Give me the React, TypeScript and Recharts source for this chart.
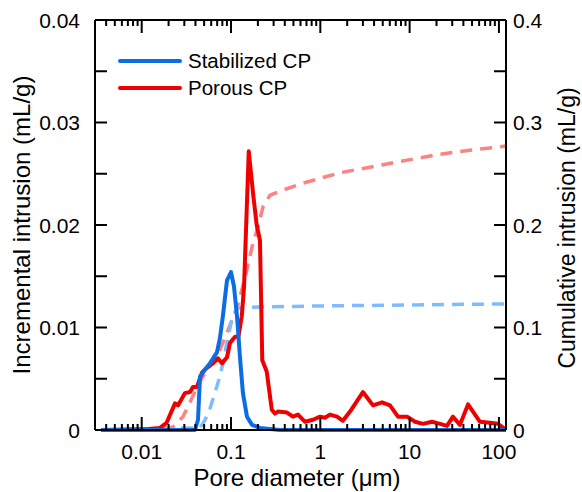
import { LineChart, Line, XAxis, YAxis, Legend, Label } from 'recharts';

// pore diameter (um) and incremental intrusion (mL/g)
const porousDiam = [0.0035, 0.012, 0.016, 0.019, 0.0236, 0.0255, 0.0305, 0.0348, 0.0375, 0.0416, 0.0473, 0.0512, 0.0582, 0.0628, 0.0714, 0.0792, 0.0902, 0.0975, 0.111, 0.121, 0.132, 0.14, 0.158, 0.178, 0.194, 0.211, 0.224, 0.251, 0.286, 0.31, 0.336, 0.424, 0.494, 0.562, 0.675, 0.828, 0.993, 1.13, 1.28, 1.54, 1.79, 2.15, 3.0, 3.89, 4.91, 6.03, 7.41, 9.35, 11.5, 14.1, 17.8, 21.9, 26.2, 30.6, 36.6, 45.1, 61.4, 79.4, 97.6, 117];
const porousIncr = [0, 0.0001, 0.0002, 0.0007, 0.0026, 0.0024, 0.0036, 0.0037, 0.0042, 0.0042, 0.0056, 0.0059, 0.0063, 0.0065, 0.007, 0.0065, 0.0071, 0.0085, 0.0091, 0.0091, 0.0111, 0.014, 0.0272, 0.0228, 0.02, 0.0185, 0.0068, 0.0057, 0.002, 0.0016, 0.0018, 0.0017, 0.0013, 0.0015, 0.0008, 0.001, 0.0013, 0.0012, 0.0015, 0.0013, 0.0009, 0.0018, 0.0037, 0.0024, 0.0027, 0.0024, 0.0013, 0.0013, 0.0008, 0.0006, 0.0008, 0.0006, 0.0004, 0.0013, 0.0005, 0.0025, 0.0008, 0.0007, 0.0006, 0.0001];

const stabDiam = [0.0035, 0.0395, 0.0427, 0.045, 0.0512, 0.0582, 0.0697, 0.0753, 0.0813, 0.0902, 0.1, 0.108, 0.117, 0.126, 0.136, 0.151, 0.172, 0.211, 0.354, 120];
const stabIncr = [0, 0, 0.001, 0.0052, 0.0059, 0.0065, 0.0076, 0.009, 0.0112, 0.0146, 0.0154, 0.014, 0.011, 0.0071, 0.0036, 0.0013, 0.0005, 0.0002, 0, 0];

// cumulative intrusion (mL/g), right axis
const porousCumDiam = [0.0062, 0.0192, 0.0224, 0.029, 0.0348, 0.0416, 0.0538, 0.0697, 0.09, 0.117, 0.1435, 0.176, 0.2, 0.229, 0.273, 0.38, 0.71, 1.67, 7.8, 21.8, 47, 120];
const porousCum = [0, 0.002, 0.003, 0.013, 0.027, 0.042, 0.059, 0.071, 0.095, 0.119, 0.149, 0.182, 0.198, 0.218, 0.229, 0.234, 0.242, 0.251, 0.262, 0.269, 0.273, 0.277];

const stabCumDiam = [0.0035, 0.045, 0.0512, 0.0582, 0.0715, 0.0813, 0.0925, 0.105, 0.12, 0.2, 1, 10, 120];
const stabCum = [0, 0.002, 0.0098, 0.021, 0.046, 0.065, 0.091, 0.112, 0.119, 0.12, 0.121, 0.122, 0.123];

const xMajor = [0.01, 0.1, 1, 10, 100];
const xMinor = [
  0.004, 0.005, 0.006, 0.007, 0.008, 0.009,
  0.02, 0.03, 0.04, 0.05, 0.06, 0.07, 0.08, 0.09,
  0.2, 0.3, 0.4, 0.5, 0.6, 0.7, 0.8, 0.9,
  2, 3, 4, 5, 6, 7, 8, 9,
  20, 30, 40, 50, 60, 70, 80, 90,
];
const xTicks = [...xMinor, ...xMajor].sort((a, b) => a - b);

const leftMajor = [0, 0.01, 0.02, 0.03, 0.04];
const leftMinor = [0.005, 0.015, 0.025, 0.035];
const rightMajor = [0, 0.1, 0.2, 0.3, 0.4];
const rightMinor = [0.05, 0.15, 0.25, 0.35];

const legendItems = [
  { name: 'Stabilized CP', color: '#0a6de3' },
  { name: 'Porous CP', color: '#ee0000' },
];

const toPoints = (d: number[], v: number[]) => d.map((x, i) => ({ d: x, v: v[i] }));

const porousData = toPoints(porousDiam, porousIncr);
const stabData = toPoints(stabDiam, stabIncr);
const porousCumData = toPoints(porousCumDiam, porousCum);
const stabCumData = toPoints(stabCumDiam, stabCum);

const FONT = '"Liberation Sans", Arial, sans-serif';
const W = 582;
const H = 492;
const LEFT = 95;
const RIGHT_W = 76;
const TOP = 20;
const BOTTOM_H = 62;

function BottomTick(props: any) {
  const { x, y, payload } = props;
  const major = xMajor.includes(payload.value);
  return (
    <g>
      <line x1={x} x2={x} y1={y} y2={y - (major ? 13 : 6)} stroke="#000" strokeWidth={2} />
      {major && (
        <text x={x} y={y + 29} textAnchor="middle" fontFamily={FONT} fontSize={21} fill="#000">
          {String(payload.value)}
        </text>
      )}
    </g>
  );
}

function TopTick(props: any) {
  const { x, y, payload } = props;
  const major = xMajor.includes(payload.value);
  return <line x1={x} x2={x} y1={y} y2={y + (major ? 13 : 6)} stroke="#000" strokeWidth={2} />;
}

function LeftTick(props: any) {
  const { x, y, payload } = props;
  const major = leftMajor.includes(payload.value);
  return (
    <g>
      <line x1={x} x2={x + 12} y1={y} y2={y} stroke="#000" strokeWidth={2} />
      {major && (
        <text x={x - 15} y={y + 7.5} textAnchor="end" fontFamily={FONT} fontSize={21} fill="#000">
          {String(payload.value)}
        </text>
      )}
    </g>
  );
}

function RightTick(props: any) {
  const { x, y, payload } = props;
  const major = rightMajor.includes(payload.value);
  return (
    <g>
      <line x1={x} x2={x - 12} y1={y} y2={y} stroke="#000" strokeWidth={2} />
      {major && (
        <text x={x + 7} y={y + 7.5} textAnchor="start" fontFamily={FONT} fontSize={21} fill="#000">
          {String(payload.value)}
        </text>
      )}
    </g>
  );
}

function LegendBox() {
  return (
    <div style={{ fontFamily: FONT, fontSize: 20.5, color: '#000' }}>
      {legendItems.map((it) => (
        <div key={it.name} style={{ display: 'flex', alignItems: 'center', height: 26.5 }}>
          <svg width={64} height={26}>
            <line x1={2} x2={62} y1={13} y2={13} stroke={it.color} strokeWidth={4} strokeLinecap="round" />
          </svg>
          <span style={{ marginLeft: 6 }}>{it.name}</span>
        </div>
      ))}
    </div>
  );
}

const plotMidY = TOP + (H - BOTTOM_H - TOP) / 2;

export default function App() {
  return (
    <div style={{ width: W, height: H, background: '#fff' }}>
      <style>{'body{margin:0}'}</style>
      <LineChart width={W} height={H} margin={{ top: 0, right: 0, bottom: 0, left: 0 }}>
        <XAxis
          xAxisId="bottom"
          dataKey="d"
          type="number"
          scale="log"
          domain={[0.003, 120]}
          allowDataOverflow
          ticks={xTicks}
          interval={0}
          height={BOTTOM_H}
          tickSize={0}
          tickMargin={0}
          tickLine={false}
          axisLine={{ stroke: '#000', strokeWidth: 2 }}
          tick={(p: any) => <BottomTick {...p} />}
        >
          <Label
            content={() => (
              <text x={297} y={486} textAnchor="middle" fontFamily={FONT} fontSize={24} fill="#000">
                Pore diameter (μm)
              </text>
            )}
          />
        </XAxis>
        <XAxis
          xAxisId="top"
          orientation="top"
          dataKey="d"
          type="number"
          scale="log"
          domain={[0.003, 120]}
          allowDataOverflow
          ticks={xTicks}
          interval={0}
          height={TOP}
          tickSize={0}
          tickMargin={0}
          tickLine={false}
          axisLine={{ stroke: '#000', strokeWidth: 2 }}
          tick={(p: any) => <TopTick {...p} />}
        />
        <YAxis
          yAxisId="left"
          domain={[0, 0.04]}
          ticks={[...leftMajor, ...leftMinor].sort((a, b) => a - b)}
          interval={0}
          width={LEFT}
          tickSize={0}
          tickMargin={0}
          tickLine={false}
          axisLine={{ stroke: '#000', strokeWidth: 2 }}
          tick={(p: any) => <LeftTick {...p} />}
        >
          <Label
            content={() => (
              <text
                x={30}
                y={plotMidY}
                transform={`rotate(-90 30 ${plotMidY})`}
                textAnchor="middle"
                fontFamily={FONT}
                fontSize={24}
                fill="#000"
              >
                Incremental intrusion (mL/g)
              </text>
            )}
          />
        </YAxis>
        <YAxis
          yAxisId="right"
          orientation="right"
          domain={[0, 0.4]}
          ticks={[...rightMajor, ...rightMinor].sort((a, b) => a - b)}
          interval={0}
          width={RIGHT_W}
          tickSize={0}
          tickMargin={0}
          tickLine={false}
          axisLine={{ stroke: '#000', strokeWidth: 2 }}
          tick={(p: any) => <RightTick {...p} />}
        >
          <Label
            content={() => (
              <text
                x={575}
                y={plotMidY + 3}
                transform={`rotate(-90 575 ${plotMidY + 3})`}
                textAnchor="middle"
                fontFamily={FONT}
                fontSize={23}
                fill="#000"
              >
                Cumulative intrusion (mL/g)
              </text>
            )}
          />
        </YAxis>
        <Legend
          layout="horizontal"
          align="center"
          verticalAlign="middle"
          wrapperStyle={{ position: 'absolute', top: 48, left: 118, width: 260, margin: 0 }}
          content={() => <LegendBox />}
        />
        <Line
          data={porousCumData}
          xAxisId="bottom"
          yAxisId="right"
          dataKey="v"
          type="linear"
          stroke="#ff8282"
          strokeWidth={3.5}
          strokeDasharray="12 8"
          dot={false}
          activeDot={false}
          isAnimationActive={false}
        />
        <Line
          data={stabCumData}
          xAxisId="bottom"
          yAxisId="right"
          dataKey="v"
          type="linear"
          stroke="#7fbcff"
          strokeWidth={3.5}
          strokeDasharray="12 8"
          dot={false}
          activeDot={false}
          isAnimationActive={false}
        />
        <Line
          data={porousData}
          xAxisId="bottom"
          yAxisId="left"
          dataKey="v"
          type="linear"
          stroke="#ee0000"
          strokeWidth={4}
          strokeLinejoin="round"
          dot={false}
          activeDot={false}
          isAnimationActive={false}
        />
        <Line
          data={stabData}
          xAxisId="bottom"
          yAxisId="left"
          dataKey="v"
          type="linear"
          stroke="#0a6de3"
          strokeWidth={4}
          strokeLinejoin="round"
          dot={false}
          activeDot={false}
          isAnimationActive={false}
        />
      </LineChart>
    </div>
  );
}
